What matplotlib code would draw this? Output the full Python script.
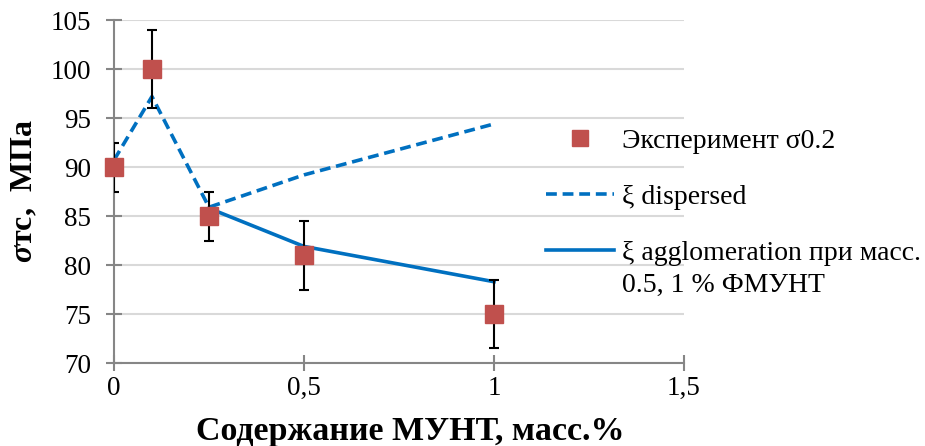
import matplotlib
matplotlib.use("Agg")
import matplotlib.pyplot as plt
from matplotlib.lines import Line2D

plt.rcParams['font.family'] = ['Liberation Serif', 'DejaVu Serif']
plt.rcParams['mathtext.fontset'] = 'custom'
plt.rcParams['mathtext.rm'] = 'Liberation Serif'
plt.rcParams['mathtext.it'] = 'Liberation Serif:italic'
plt.rcParams['mathtext.bf'] = 'Liberation Serif:bold'
plt.rcParams['mathtext.bfit'] = 'Liberation Serif:italic:bold'

# data
exp_x = [0, 0.1, 0.25, 0.5, 1.0]
exp_y = [90, 100, 85, 81, 75]
exp_err = [2.5, 4, 2.5, 3.5, 3.5]

disp_x = [0, 0.1, 0.25, 0.5, 1.0]
disp_y = [90.7, 97.2, 85.9, 89.2, 94.4]

aggl_x = [0.25, 0.5, 1.0]
aggl_y = [85.8, 81.9, 78.3]

x_ticks = [0, 0.5, 1.0, 1.5]
x_ticklabels = ['0', '0,5', '1', '1,5']
y_ticks = [70, 75, 80, 85, 90, 95, 100, 105]

labels = ['Эксперимент σ0.2', 'ξ dispersed', 'ξ agglomeration при масс.']
label3_line2 = '0.5, 1 % ФМУНТ'

blue = '#0070C0'
red = '#C0504D'
grid = '#D9D9D9'
axc = '#868686'

fig = plt.figure(figsize=(9.25, 4.46), dpi=100)
ax = fig.add_axes([0.1232, 0.186, 0.7395 - 0.1232, 0.955 - 0.186])

ax.set_xlim(0, 1.5)
ax.set_ylim(70, 105)
ax.set_yticks(y_ticks)
ax.set_xticks(x_ticks)
ax.set_xticklabels(x_ticklabels)
ax.grid(axis='y', color=grid, lw=1.5, zorder=0)
ax.set_axisbelow(True)
for s in ['top', 'right']:
    ax.spines[s].set_visible(False)
for s in ['left', 'bottom']:
    ax.spines[s].set_color(axc)
    ax.spines[s].set_linewidth(1.5)
ax.tick_params(axis='both', direction='inout', length=11, width=1.5, color=axc,
               labelsize=19.5)
ax.tick_params(axis='y', pad=11)
ax.tick_params(axis='x', pad=4)

dash = (0, (3, 1.6))
ax.plot(disp_x, disp_y, color=blue, lw=2.6, ls=dash, zorder=3)
ax.plot(aggl_x, aggl_y, color=blue, lw=2.6, zorder=3)
ax.errorbar(exp_x, exp_y, yerr=exp_err, fmt='none', ecolor='black', elinewidth=1.5,
            capsize=3.8, capthick=1.5, zorder=4)
ax.plot(exp_x, exp_y, ls='none', marker='s', ms=13.5, color=red, mec=red, zorder=5, clip_on=False)

ax.set_ylabel(r'$\mathbfit{\sigma}$тс,  МПа', fontsize=23, fontweight='bold')
ax.yaxis.set_label_coords(-0.130, 0.5)
ax.set_xlabel('Содержание МУНТ, масс.%', fontsize=24.5, fontweight='bold')
ax.xaxis.set_label_coords(0.519, -0.2245)
ax.xaxis.label.set_va('baseline')

handles = [
    Line2D([], [], ls='none', marker='s', ms=12, color=red),
    Line2D([], [], color=blue, lw=2.6, ls=dash),
    Line2D([], [], color=blue, lw=2.6),
]
leg = fig.legend(handles, labels, loc='upper left', bbox_to_anchor=(0.590, 0.712),
                 frameon=False, fontsize=20, handlelength=2.45, handletextpad=0.3,
                 labelspacing=1.1, borderaxespad=0, borderpad=0)

fig.canvas.draw()
t3 = leg.get_texts()[2]
bb = t3.get_window_extent().transformed(fig.transFigure.inverted())
fig.text(bb.x0, bb.y0 - 0.0165, label3_line2, fontsize=20, ha='left', va='top')

fig.savefig('out.png', dpi=100)
